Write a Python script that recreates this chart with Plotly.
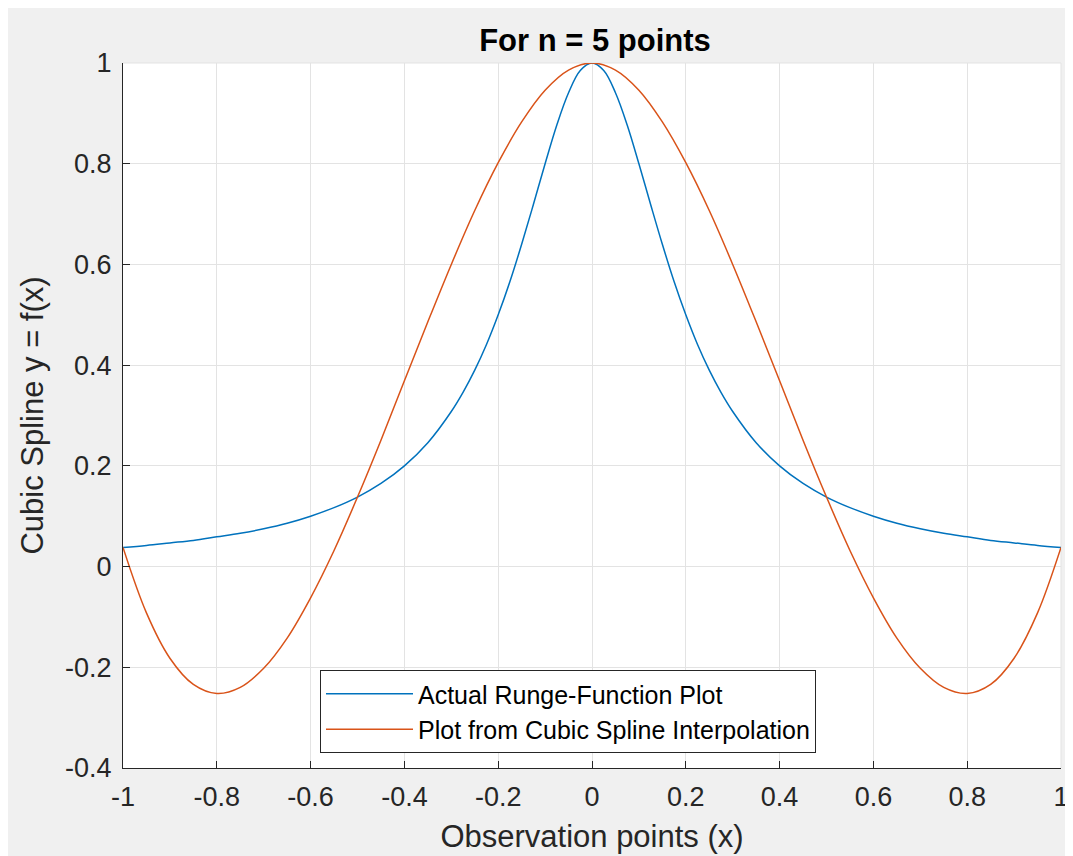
import plotly.graph_objects as go

# Observation points for the Runge function curve (denser near the peak)
x_runge = [-1.0, -0.95, -0.9, -0.85, -0.8, -0.75, -0.7, -0.65, -0.6, -0.55, -0.5,
           -0.45, -0.4, -0.35, -0.3, -0.275, -0.25, -0.225, -0.2, -0.175, -0.15, -0.125,
           -0.1, -0.075, -0.05, -0.025, 0.0,
           0.025, 0.05, 0.075, 0.1, 0.125, 0.15, 0.175, 0.2, 0.225, 0.25, 0.275, 0.3,
           0.35, 0.4, 0.45, 0.5, 0.55, 0.6, 0.65, 0.7, 0.75, 0.8, 0.85, 0.9, 0.95, 1.0]

# Actual Runge function values
runge_vals = [0.038, 0.042, 0.047, 0.052, 0.059, 0.066, 0.075, 0.086, 0.100, 0.117, 0.138,
              0.165, 0.200, 0.246, 0.308, 0.346, 0.390, 0.441, 0.500, 0.566, 0.640, 0.719,
              0.800, 0.877, 0.941, 0.985, 1.000,
              0.985, 0.941, 0.877, 0.800, 0.719, 0.640, 0.566, 0.500, 0.441, 0.390, 0.346, 0.308,
              0.246, 0.200, 0.165, 0.138, 0.117, 0.100, 0.086, 0.075, 0.066, 0.059, 0.052, 0.047, 0.042, 0.038]

# Observation points for the cubic spline curve
x_spline = [-1.0, -0.95, -0.9, -0.85, -0.8, -0.75, -0.7, -0.65, -0.6, -0.55, -0.5,
            -0.45, -0.4, -0.35, -0.3, -0.25, -0.2, -0.15, -0.1, -0.05, 0.0,
            0.05, 0.1, 0.15, 0.2, 0.25, 0.3, 0.35, 0.4, 0.45, 0.5,
            0.55, 0.6, 0.65, 0.7, 0.75, 0.8, 0.85, 0.9, 0.95, 1.0]

# Cubic spline interpolation values
spline_vals = [0.038, -0.092, -0.182, -0.234, -0.252, -0.240, -0.202, -0.142, -0.062, 0.032, 0.138,
               0.251, 0.369, 0.486, 0.600, 0.707, 0.802, 0.883, 0.946, 0.986, 1.000,
               0.986, 0.946, 0.883, 0.802, 0.707, 0.600, 0.486, 0.369, 0.251, 0.138,
               0.032, -0.062, -0.142, -0.202, -0.240, -0.252, -0.234, -0.182, -0.092, 0.038]

x_ticks = [-1, -0.8, -0.6, -0.4, -0.2, 0, 0.2, 0.4, 0.6, 0.8, 1]
x_tick_text = ["-1", "-0.8", "-0.6", "-0.4", "-0.2", "0", "0.2", "0.4", "0.6", "0.8", "1"]
y_ticks = [-0.4, -0.2, 0, 0.2, 0.4, 0.6, 0.8, 1]
y_tick_text = ["-0.4", "-0.2", "0", "0.2", "0.4", "0.6", "0.8", "1"]

FONT = "Liberation Sans, Arial, Helvetica, sans-serif"
DARK = "#262626"

fig = go.Figure()
fig.add_trace(go.Scatter(x=x_runge, y=runge_vals, mode="lines",
                         name="Actual Runge-Function Plot",
                         line=dict(color="#0072BD", width=1.5, shape="spline", smoothing=1.0)))
fig.add_trace(go.Scatter(x=x_spline, y=spline_vals, mode="lines",
                         name="Plot from Cubic Spline Interpolation",
                         line=dict(color="#D95319", width=1.5, shape="spline", smoothing=1.0)))

W, H = 1073, 856
L, R, T, B = 115, 20, 55, 96
pw, ph = W - L - R, H - T - B
OFF = 8  # page body margin

def px(xp):
    return (xp - OFF - L) / pw

def py(yp):
    return (H - B - (yp - OFF)) / ph

fig.update_layout(
    width=W, height=H,
    margin=dict(l=L, r=R, t=T, b=B, autoexpand=False),
    paper_bgcolor="#f0f0f0",
    plot_bgcolor="#ffffff",
    font=dict(family=FONT, color=DARK, size=27),
    title=dict(text="<b>For n = 5 points</b>", x=(595 - OFF) / W, xanchor="center", xref="container",
               y=1 - (40 - OFF) / H, yanchor="middle", yref="container",
               font=dict(family=FONT, size=31, color="#000000")),
    showlegend=True,
    legend=dict(x=px(320), y=py(670), xanchor="left", yanchor="top",
                bgcolor="#ffffff", bordercolor=DARK, borderwidth=1,
                font=dict(family=FONT, size=25, color="#000000"),
                itemwidth=87, tracegroupgap=0),
    xaxis=dict(range=[-1, 1], tickvals=x_ticks, ticktext=x_tick_text,
               showgrid=True, gridcolor="#e3e3e3", gridwidth=1,
               zeroline=False, showline=True, linecolor=DARK, linewidth=1,
               ticks="inside", ticklen=7, tickcolor=DARK, ticklabelstandoff=5,
               tickfont=dict(size=27, color=DARK), automargin=False,
               title=dict(text="Observation points (x)", font=dict(size=31, color=DARK), standoff=13)),
    yaxis=dict(range=[-0.4, 1], tickvals=y_ticks, ticktext=y_tick_text,
               showgrid=True, gridcolor="#e3e3e3", gridwidth=1,
               zeroline=False, showline=True, linecolor=DARK, linewidth=1,
               ticks="inside", ticklen=7, tickcolor=DARK, ticklabelstandoff=5,
               tickfont=dict(size=27, color=DARK), automargin=False,
               title=dict(text="Cubic Spline y = f(x)", font=dict(size=31, color=DARK), standoff=12)),
    shapes=[
        dict(type="line", xref="paper", yref="paper",
             x0=0, x1=1, y0=1, y1=1, line=dict(color="#e3e3e3", width=1), layer="below"),
        dict(type="line", xref="paper", yref="paper",
             x0=1, x1=1, y0=0, y1=1, line=dict(color="#e3e3e3", width=1), layer="below"),
    ],
)

fig.write_html("out.html")
